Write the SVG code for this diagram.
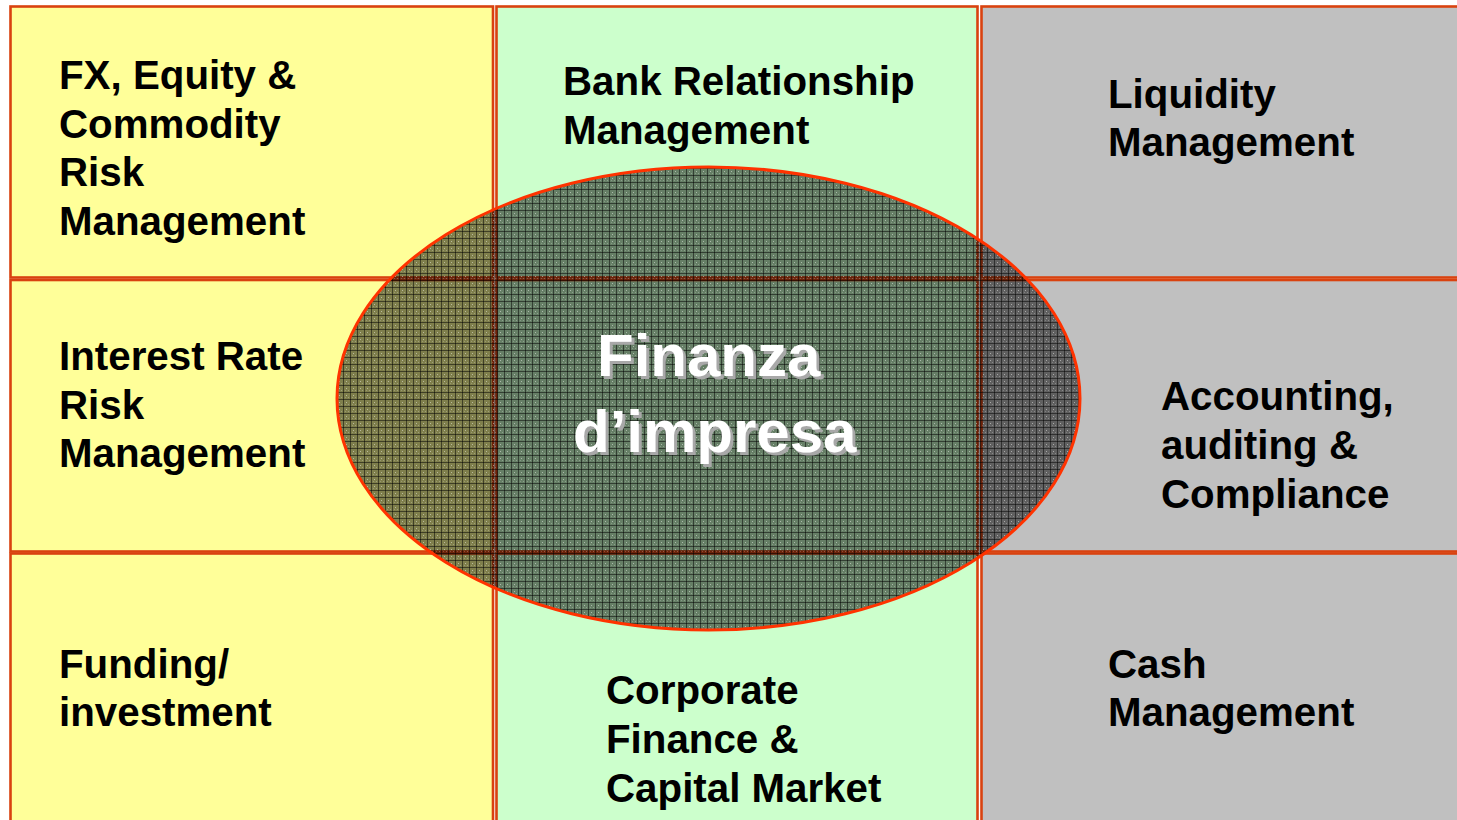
<svg xmlns="http://www.w3.org/2000/svg" width="1457" height="820" viewBox="0 0 1457 820">
  <style>
    .cell { stroke: #d9420f; stroke-width: 2.6; }
    .yel { fill: #ffff99; }
    .grn { fill: #ccffcc; }
    .gry { fill: #c0c0c0; }
    .lbl { font-family: "Liberation Sans", Arial, sans-serif; font-weight: bold; font-size: 40.3px; fill: #000; }
    .core { font-family: "Liberation Sans", Arial, sans-serif; font-weight: bold; font-size: 60px; fill: #ffffff; filter: url(#shade); }
  </style>
  <defs>
    <!-- fine mesh used to shade the central ellipse -->
    <pattern id="mesh" width="7" height="7" patternUnits="userSpaceOnUse">
      <rect x="0" y="0" width="7" height="1" fill="#000" fill-opacity="0.5"/>
      <rect x="0" y="0" width="1" height="7" fill="#000" fill-opacity="0.5"/>
      <rect x="3" y="3" width="1" height="1" fill="#fff" fill-opacity="0.45"/>
      <rect x="5" y="5" width="1" height="1" fill="#fff" fill-opacity="0.25"/>
      <rect x="2" y="5" width="1" height="1" fill="#fff" fill-opacity="0.2"/>
    </pattern>
    <!-- grey offset shadow behind the white title -->
    <filter id="shade" x="-10%" y="-20%" width="130%" height="150%">
      <feDropShadow dx="3" dy="3" stdDeviation="0.4" flood-color="#a8a8a8" flood-opacity="1"/>
    </filter>
  </defs>

  <rect x="0" y="0" width="1457" height="820" fill="#ffffff"/>

  <!-- left column -->
  <g id="fx-equity">
    <rect class="cell yel" x="10.5" y="6.5" width="482.5" height="271"/>
    <text class="lbl" x="59" y="89">FX, Equity &amp;</text>
    <text class="lbl" x="59" y="138">Commodity</text>
    <text class="lbl" x="59" y="186">Risk</text>
    <text class="lbl" x="59" y="235">Management</text>
  </g>
  <g id="interest-rate">
    <rect class="cell yel" x="10.5" y="280" width="482.5" height="271.5"/>
    <text class="lbl" x="59" y="370">Interest Rate</text>
    <text class="lbl" x="59" y="419">Risk</text>
    <text class="lbl" x="59" y="467">Management</text>
  </g>
  <g id="funding">
    <rect class="cell yel" x="10.5" y="553.5" width="482.5" height="300"/>
    <text class="lbl" x="59" y="678">Funding/</text>
    <text class="lbl" x="59" y="726">investment</text>
  </g>

  <!-- middle column -->
  <g id="bank-relationship">
    <rect class="cell grn" x="496.5" y="6.5" width="481" height="271"/>
    <text class="lbl" x="563" y="95">Bank Relationship</text>
    <text class="lbl" x="563" y="144">Management</text>
  </g>
  <g id="middle-centre">
    <rect class="cell grn" x="496.5" y="280" width="481" height="271.5"/>
  </g>
  <g id="corporate-finance">
    <rect class="cell grn" x="496.5" y="553.5" width="481" height="300"/>
    <text class="lbl" x="606" y="704">Corporate</text>
    <text class="lbl" x="606" y="753">Finance &amp;</text>
    <text class="lbl" x="606" y="802">Capital Market</text>
  </g>

  <!-- right column -->
  <g id="liquidity">
    <rect class="cell gry" x="981.5" y="6.5" width="500" height="271"/>
    <text class="lbl" x="1108" y="108">Liquidity</text>
    <text class="lbl" x="1108" y="156">Management</text>
  </g>
  <g id="accounting">
    <rect class="cell gry" x="981.5" y="280" width="500" height="271.5"/>
    <text class="lbl" x="1161" y="410">Accounting,</text>
    <text class="lbl" x="1161" y="459">auditing &amp;</text>
    <text class="lbl" x="1161" y="508">Compliance</text>
  </g>
  <g id="cash">
    <rect class="cell gry" x="981.5" y="553.5" width="500" height="300"/>
    <text class="lbl" x="1108" y="678">Cash</text>
    <text class="lbl" x="1108" y="726">Management</text>
  </g>

  <!-- central ellipse overlapping all cells -->
  <g id="finanza-impresa">
    <ellipse cx="708.5" cy="398.5" rx="371.5" ry="231.5" fill="#000" fill-opacity="0.5"/>
    <ellipse cx="708.5" cy="398.5" rx="371.5" ry="231.5" fill="url(#mesh)" stroke="#ff3300" stroke-width="3"/>
    <text class="core" x="597" y="376">Finanza</text>
    <text class="core" x="573" y="452">d’impresa</text>
  </g>
</svg>
